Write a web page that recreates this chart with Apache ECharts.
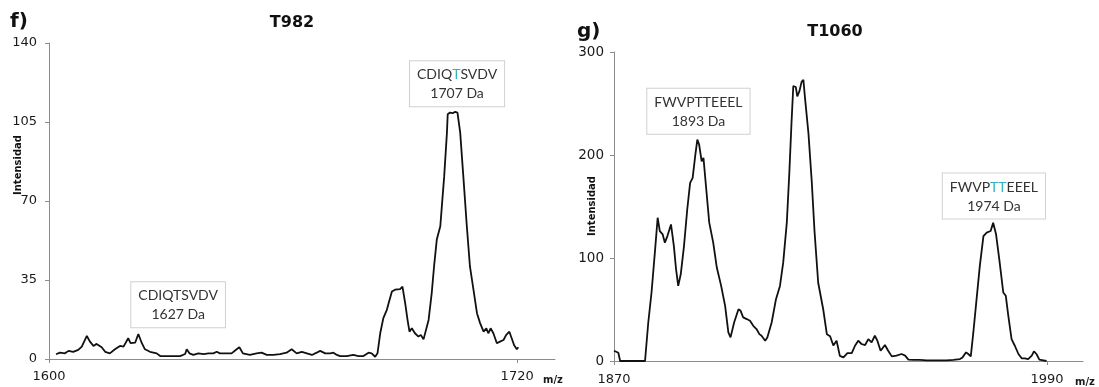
<!DOCTYPE html>
<html>
<head>
<meta charset="utf-8">
<script src="https://cdn.jsdelivr.net/npm/echarts@6/dist/echarts.min.js"></script>
<style>
html,body{margin:0;padding:0;background:#fff;}
#c{width:1099px;height:387px;}
</style>
</head>
<body>
<div id="c"></div>
<script>
// ---- Panel f) T982 ----
const fMz = [1601.8,1602.8,1604.1,1605.0,1606.2,1607.5,1608.4,1609.7,1610.5,1611.4,
1612.2,1613.5,1614.4,1615.6,1616.9,1618.2,1619.1,1620.3,1620.9,1622.1,
1622.9,1623.8,1624.6,1625.9,1627.6,1628.5,1630.2,1631.9,1633.6,1634.9,
1635.3,1636.0,1637.0,1638.3,1639.6,1640.9,1642.1,1643.0,1643.8,1645.6,
1646.8,1648.1,1648.8,1649.7,1651.5,1653.2,1654.5,1655.8,1657.5,1659.2,
1660.9,1662.2,1663.5,1664.8,1666.1,1667.4,1668.6,1669.5,1670.8,1672.1,
1672.9,1673.8,1674.6,1676.3,1678.0,1679.3,1680.6,1681.9,1682.7,1683.2,
1683.6,1684.2,1684.9,1685.7,1686.6,1687.3,1687.9,1688.7,1689.1,1690.0,
1690.6,1691.3,1691.9,1692.4,1693.0,1693.8,1694.7,1695.3,1696.0,1696.4,
1697.3,1698.1,1698.7,1699.4,1700.3,1700.7,1701.3,1702.0,1702.2,1702.8,
1703.5,1704.1,1704.7,1705.4,1706.2,1707.1,1707.9,1708.8,1709.7,1710.5,
1711.4,1712.1,1712.6,1713.2,1713.9,1714.8,1715.6,1716.5,1717.2,1718.0,
1718.6,1719.2,1719.9,1720.3];
const fInt = [2.1,2.8,2.5,3.6,3.2,4.0,5.5,10.2,7.7,5.8,
6.7,5.2,3.2,2.5,4.3,5.8,5.5,9.2,7.0,7.3,
11.1,7.0,4.3,3.2,2.5,1.3,1.3,1.3,1.3,2.2,
4.3,2.5,1.8,2.5,2.2,2.5,2.5,3.2,2.5,2.5,
2.5,4.3,5.2,2.5,1.8,2.5,2.8,1.8,1.8,2.2,
2.8,4.3,2.5,3.2,2.5,1.8,2.8,3.6,2.5,2.5,
2.8,1.8,1.3,1.3,1.8,1.3,1.3,2.8,2.5,1.8,
1.0,2.5,11.4,18.1,21.8,26.2,29.9,30.7,29.9,31.0,
32.1,24.7,17.3,12.1,13.6,11.4,9.9,10.7,8.7,8.4,
17.3,29.2,41.0,52.9,58.8,67.7,81.0,100.3,108.4,109.2,
108.9,109.5,109.2,100.3,81.0,58.8,41.0,30.7,20.3,15.9,
12.1,13.6,11.4,13.6,11.4,7.0,7.7,8.4,10.7,12.1,
9.2,6.2,4.3,5.2];
const fXTicks = [1600, 1720];
const fYTicks = [0, 35, 70, 105, 140];

// ---- Panel g) T1060 ----
const gMz = [1870.0,1870.6,1871.2,1871.7,1878.6,1879.5,1880.4,1881.4,1882.1,1882.7,
1883.5,1884.1,1884.8,1885.8,1886.6,1887.2,1887.8,1888.5,1889.4,1890.3,
1891.1,1891.8,1892.5,1893.1,1893.6,1894.3,1894.8,1895.5,1896.4,1897.5,
1898.5,1899.7,1900.8,1901.7,1902.3,1903.3,1904.5,1905.1,1905.8,1906.8,
1907.7,1908.6,1909.5,1910.3,1910.9,1911.9,1912.5,1913.7,1914.9,1916.0,
1916.9,1917.9,1918.6,1919.2,1919.7,1920.4,1920.8,1921.4,1922.0,1922.5,
1922.9,1923.9,1924.8,1925.6,1926.6,1928.0,1929.0,1929.9,1930.8,1931.7,
1932.6,1933.6,1934.7,1935.9,1936.8,1937.7,1938.6,1939.6,1940.5,1941.4,
1942.3,1943.0,1943.9,1945.1,1946.0,1947.0,1948.3,1949.7,1950.7,1951.6,
1953.0,1954.8,1956.7,1958.5,1960.4,1962.2,1964.1,1965.9,1966.6,1967.6,
1968.2,1968.9,1969.6,1970.5,1971.4,1972.4,1973.3,1973.7,1974.4,1975.1,
1975.9,1976.8,1977.9,1978.6,1979.3,1980.2,1981.1,1982.1,1983.0,1983.9,
1984.8,1985.8,1986.4,1987.1,1987.9,1989.0,1989.9];
const gInt = [10,9,8,0,0,37.4,66.5,108.4,139.1,126.1,
122.9,114.9,121.3,132.6,111.6,89.1,72.9,84.2,111.6,147.1,
173.0,177.8,198.8,214.9,210.1,193.9,197.2,169.7,134.3,114.9,
90.7,72.9,53.5,27.8,22.9,37.4,50.3,48.7,42.3,40.7,
39.0,34.2,31.0,26.1,24.5,19.7,22.9,37.4,60.0,72.9,
95.5,134.3,182.7,231.0,267,266,257,262,271,273,
257,221,175,125,76,50,26,24,15,19.7,
5,3.5,7.7,7.7,14.8,19.7,16.5,15.5,21.3,18.1,
24.5,19.7,10.0,15.5,10.0,4.5,5.2,6.8,5.2,1.3,
1.0,1.0,0.6,0.6,0.6,0.6,1.0,1.9,3.5,8.4,
6.8,4.5,27.7,60.0,92.3,121.3,124.6,123.0,126.2,134.3,
123.0,98.7,66.5,63.3,43.9,21.3,14.8,6.8,2.6,2.6,
1.9,5.2,9.4,6.8,1.3,0.6,0];
const gXTicks = [1870, 1990];
const gYTicks = [0, 100, 200, 300];

// ---- Annotations ----
const fNotes = [
  {seq: ['CDIQTSVDV'], hl: [], mass: '1627 Da'},
  {seq: ['CDIQ', 'T', 'SVDV'], hl: [1], mass: '1707 Da'}
];
const gNotes = [
  {seq: ['FWVPTTEEEL'], hl: [], mass: '1893 Da'},
  {seq: ['FWVP', 'TT', 'EEEL'], hl: [1], mass: '1974 Da'}
];

const AX = '#8c8c8c';
const TXT = '#1a1a1a';
const FONT = 'DejaVu Sans';
const NOTE_FONT = 'Lato';

function noteText(n) {
  const first = n.seq.map((s, i) => (n.hl.indexOf(i) >= 0 ? '{t|' : '{a|') + s + '}').join('');
  return first + '\n{a|' + n.mass + '}';
}
function noteLabel() {
  return {
    show: true, position: 'inside', align: 'center', verticalAlign: 'middle',
    backgroundColor: '#fff', borderColor: '#d0d0d0', borderWidth: 1,
    padding: [4, 7, 3, 7], lineHeight: 19,
    rich: {
      a: {fontFamily: NOTE_FONT, fontSize: 14, color: '#333', lineHeight: 19, align: 'center'},
      t: {fontFamily: NOTE_FONT, fontSize: 14, color: '#2fb4c0', lineHeight: 19, align: 'center'}
    }
  };
}
function mark(coord, n) {
  return {coord: coord, symbol: 'rect', symbolSize: 1, itemStyle: {color: 'rgba(0,0,0,0)'},
          label: Object.assign(noteLabel(), {formatter: noteText(n)})};
}

function xAxisCfg(idx, min, max, ticks, fs, gap, margin) {
  return {
    type: 'value', gridIndex: idx, min: min, max: max,
    axisLine: {show: true, lineStyle: {color: AX, width: 1}},
    axisTick: {show: true, customValues: ticks, length: 4, lineStyle: {color: AX}, inside: false},
    axisLabel: {customValues: ticks, color: TXT, fontFamily: FONT, fontSize: fs, margin: margin,
                formatter: v => String(v)},
    splitLine: {show: false},
    name: 'm/z', nameLocation: 'end', nameGap: gap,
    nameTextStyle: {fontFamily: FONT, fontWeight: 'bold', fontSize: 10, color: TXT,
                    align: 'left', verticalAlign: 'top', padding: [16, 0, 0, 0]}
  };
}
function yAxisCfg(idx, max, interval, fs, margin) {
  return {
    type: 'value', gridIndex: idx, min: 0, max: max, interval: interval,
    axisLine: {show: true, lineStyle: {color: AX, width: 1}},
    axisTick: {show: true, length: 4, lineStyle: {color: AX}},
    axisLabel: {color: TXT, fontFamily: FONT, fontSize: fs, margin: margin, formatter: v => String(v)},
    splitLine: {show: false}
  };
}

const chart = echarts.init(document.getElementById('c'), null, {renderer: 'canvas'});
chart.setOption({
  animation: false,
  backgroundColor: '#fff',
  grid: [
    {left: 49, right: 544, top: 43, bottom: 28, containLabel: false},
    {left: 614, right: 16, top: 52, bottom: 25, containLabel: false}
  ],
  xAxis: [
    xAxisCfg(0, 1600, 1729.7, fXTicks, 13, -12, 11),
    xAxisCfg(1, 1870, 2000, gXTicks, 13, -8, 12)
  ],
  yAxis: [
    yAxisCfg(0, fYTicks[fYTicks.length - 1], fYTicks[1] - fYTicks[0], 13, 12),
    yAxisCfg(1, gYTicks[gYTicks.length - 1], gYTicks[1] - gYTicks[0], 13.5, 10)
  ],
  series: [
    {
      type: 'line', xAxisIndex: 0, yAxisIndex: 0, showSymbol: false, symbol: 'none',
      lineStyle: {color: '#111', width: 1.8}, data: fMz.map((m, i) => [m, fInt[i]]),
      markPoint: {silent: true, data: [mark([1633.1, 24], fNotes[0]), mark([1704.6, 122], fNotes[1])]}
    },
    {
      type: 'line', xAxisIndex: 1, yAxisIndex: 1, showSymbol: false, symbol: 'none',
      lineStyle: {color: '#111', width: 1.8}, data: gMz.map((m, i) => [m, gInt[i]]),
      markPoint: {silent: true, data: [mark([1893.4, 242.5], gNotes[0]), mark([1975.3, 160.2], gNotes[1])]}
    }
  ],
  graphic: [
    {type: 'text', left: 10, top: 12, style: {text: 'f)', fontFamily: FONT, fontWeight: 'bold', fontSize: 20, fill: '#111'}},
    {type: 'text', left: 577, top: 22, style: {text: 'g)', fontFamily: FONT, fontWeight: 'bold', fontSize: 20, fill: '#111'}},
    {type: 'text', x: 292, y: 23, style: {text: 'T982', fontFamily: FONT, fontWeight: 'bold', fontSize: 16, fill: '#111', align: 'center', verticalAlign: 'middle'}},
    {type: 'text', x: 835, y: 32, style: {text: 'T1060', fontFamily: FONT, fontWeight: 'bold', fontSize: 16, fill: '#111', align: 'center', verticalAlign: 'middle'}},
    {type: 'text', x: 18, y: 165, rotation: Math.PI / 2, style: {text: 'Intensidad', fontFamily: FONT, fontWeight: 'bold', fontSize: 10, fill: '#111', align: 'center', verticalAlign: 'middle'}},
    {type: 'text', x: 592, y: 206, rotation: Math.PI / 2, style: {text: 'Intensidad', fontFamily: FONT, fontWeight: 'bold', fontSize: 10, fill: '#111', align: 'center', verticalAlign: 'middle'}}
  ]
});
</script>
</body>
</html>
